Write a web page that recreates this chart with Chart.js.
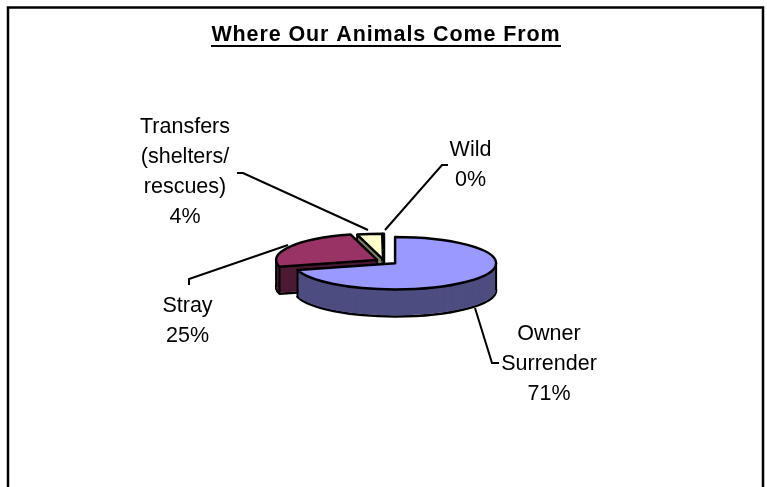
<!DOCTYPE html>
<html><head><meta charset="utf-8">
<script src="https://cdn.jsdelivr.net/npm/chart.js@4"></script>
<style>html,body{margin:0;padding:0;background:#fff}canvas{display:block}</style>
</head><body><canvas id="c" width="767" height="487"></canvas>
<script>
const chartTitle = 'Where Our Animals Come From';
const categories = ['Owner Surrender', 'Stray', 'Transfers (shelters/ rescues)', 'Wild'];
const values = [71, 25, 4, 0.2];
const topColors = ['#9999FF', '#993366', '#FFFFCC', '#CCFFFF'];
const wallColors = ['#4D4D80', '#4D1A33', '#808066', '#668080'];

const FONT = '"Liberation Sans", Arial, sans-serif';
const PIE = {x: 384, y: 261, r: 101, squash: 0.26, depth: 27};
const explode = [14, 8, 4, 4];
const drawOrder = [2, 1, 3, 0];
const labelLines = [['Owner', 'Surrender'], ['Stray'], ['Transfers', '(shelters/', 'rescues)'], ['Wild']];
const labelPos = [{x: 549, y: 340}, {x: 187.5, y: 312}, {x: 185, y: 133}, {x: 470.5, y: 156}];
const leaders = [
  [[475, 308], [492, 363], [499, 363]],
  [[189, 285], [189, 279], [288, 245]],
  [[237, 173], [243, 173], [368, 230]],
  [[448, 165], [442, 165], [385, 230]]
];

const pie3d = {
  id: 'pie3d',
  beforeDraw(chart) { chart.ctx.letterSpacing = '0.9px'; },
  beforeDatasetsDraw(chart) {
    const ctx = chart.ctx;
    ctx.letterSpacing = '0px';
    // frame (open at the bottom edge)
    ctx.save();
    ctx.strokeStyle = '#000'; ctx.lineWidth = 2.5;
    ctx.beginPath(); ctx.moveTo(8, 487); ctx.lineTo(8, 7.5); ctx.lineTo(763, 7.5); ctx.lineTo(763, 487); ctx.stroke();
    // title underline
    ctx.lineWidth = 2;
    ctx.beginPath(); ctx.moveTo(211, 46); ctx.lineTo(561, 46); ctx.stroke();
    ctx.restore();

    const arcs = chart.getDatasetMeta(0).data;
    const place = (i, dy) => {
      const a = arcs[i], p = a.getProps(['x', 'y', 'startAngle', 'endAngle', 'outerRadius'], true);
      const mid = (p.startAngle + p.endAngle) / 2;
      ctx.translate(PIE.x - p.x + Math.cos(mid) * explode[i], PIE.y - p.y + dy + Math.sin(mid) * explode[i] * PIE.squash);
      ctx.translate(p.x, p.y); ctx.scale(1, PIE.squash); ctx.translate(-p.x, -p.y);
      return p;
    };
    const sector = (i, dy) => {
      ctx.save();
      const p = place(i, dy);
      ctx.beginPath();
      ctx.moveTo(p.x, p.y);
      ctx.arc(p.x, p.y, p.outerRadius, p.startAngle, p.endAngle);
      ctx.closePath();
      ctx.restore();
    };
    const libFill = (i, dy, color) => {
      const a = arcs[i];
      const saved = a.options;
      a.options = Object.assign({}, saved, {backgroundColor: color, borderWidth: 0, offset: 0});
      ctx.save(); place(i, dy); a.draw(ctx); ctx.restore();
      a.options = saved;
    };
    ctx.save();
    ctx.strokeStyle = '#000'; ctx.lineJoin = 'round'; ctx.lineWidth = 2.5;
    drawOrder.forEach(i => {
      // bottom rim
      sector(i, PIE.depth); ctx.stroke();
      // extruded walls
      for (let k = PIE.depth - 1; k > 0; k--) libFill(i, k, wallColors[i]);
      // vertical wall edges at corners and horizontal extremes
      const p = arcs[i].getProps(['x', 'y', 'startAngle', 'endAngle', 'outerRadius'], true);
      const mid = (p.startAngle + p.endAngle) / 2;
      const cx = PIE.x + Math.cos(mid) * explode[i], cy = PIE.y + Math.sin(mid) * explode[i] * PIE.squash;
      const angs = [p.startAngle, p.endAngle];
      [0, Math.PI, 2 * Math.PI].forEach(e => { if (e > p.startAngle && e < p.endAngle) angs.push(e); });
      ctx.lineWidth = 2;
      const vert = (x, y) => { ctx.beginPath(); ctx.moveTo(x, y); ctx.lineTo(x, y + PIE.depth); ctx.stroke(); };
      angs.forEach(e => vert(cx + Math.cos(e) * p.outerRadius, cy + Math.sin(e) * p.outerRadius * PIE.squash));
      vert(cx, cy);
      ctx.lineWidth = 2.5;
      // top face
      libFill(i, 0, topColors[i]);
      sector(i, 0); ctx.stroke();
    });
    ctx.restore();

    // leader lines and data labels
    const total = values.reduce((s, v) => s + v, 0);
    ctx.save();
    ctx.strokeStyle = '#000'; ctx.lineWidth = 2;
    leaders.forEach(l => {
      ctx.beginPath();
      l.forEach((pt, n) => n ? ctx.lineTo(pt[0], pt[1]) : ctx.moveTo(pt[0], pt[1]));
      ctx.stroke();
    });
    ctx.fillStyle = '#000'; ctx.font = '21.5px ' + FONT; ctx.textAlign = 'center'; ctx.textBaseline = 'alphabetic';
    categories.forEach((c, i) => {
      const lines = labelLines[i].concat(Math.round(values[i] / total * 100) + '%');
      lines.forEach((s, n) => ctx.fillText(s, labelPos[i].x, labelPos[i].y + n * 30));
    });
    ctx.restore();
    return false;
  }
};

new Chart(document.getElementById('c'), {
  type: 'pie',
  data: {labels: categories, datasets: [{data: values, backgroundColor: topColors, borderColor: '#000', borderWidth: 0}]},
  options: {
    responsive: false, animation: false, radius: PIE.r,
    layout: {padding: {left: 5, right: 0, top: 0, bottom: 15}},
    plugins: {
      legend: {display: false}, tooltip: {enabled: false},
      title: {display: true, text: chartTitle, color: '#000', align: 'center', fullSize: false,
        font: {family: FONT, size: 21.5, weight: 'bold'}, padding: {top: 22, bottom: 5}}
    }
  },
  plugins: [pie3d]
});
</script></body></html>
